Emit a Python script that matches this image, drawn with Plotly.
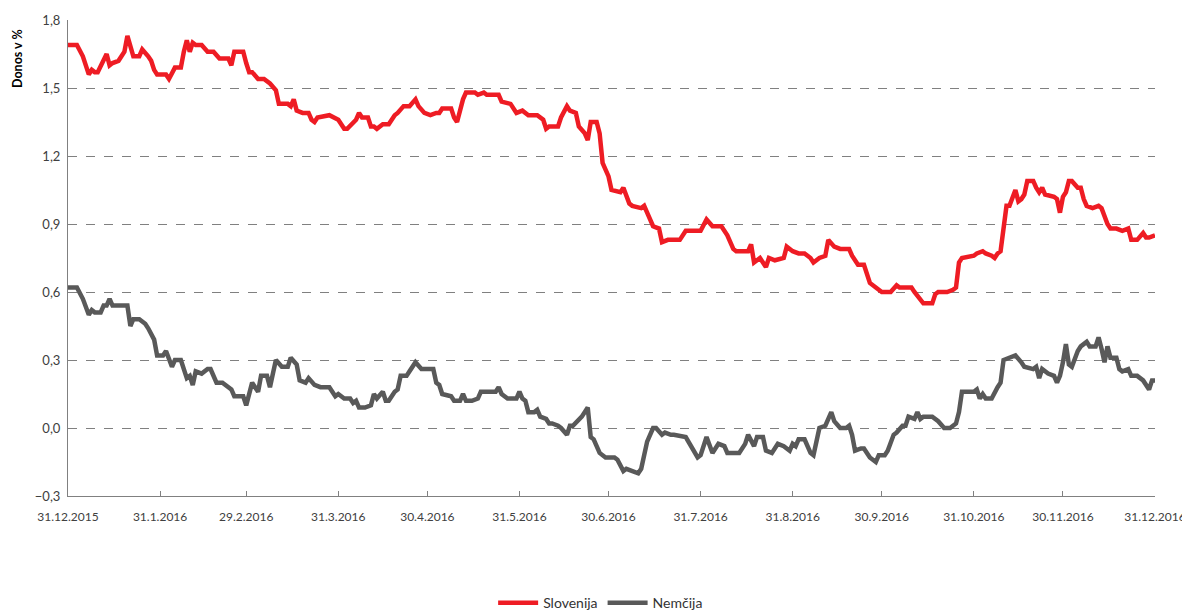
import plotly.graph_objects as go

slo_dates = ["2015-12-31","2016-01-03","2016-01-05","2016-01-06","2016-01-07","2016-01-08","2016-01-09","2016-01-10","2016-01-12","2016-01-13","2016-01-14","2016-01-15","2016-01-17","2016-01-18","2016-01-19","2016-01-20","2016-01-21","2016-01-22","2016-01-24","2016-01-25","2016-01-27","2016-01-28","2016-01-29","2016-01-30",
"2016-02-02","2016-02-03","2016-02-05","2016-02-07","2016-02-08","2016-02-09","2016-02-10","2016-02-11","2016-02-12","2016-02-14","2016-02-16","2016-02-17","2016-02-18","2016-02-20","2016-02-21","2016-02-23","2016-02-24","2016-02-25","2016-02-27","2016-02-28","2016-02-29",
"2016-03-01","2016-03-02","2016-03-04","2016-03-06","2016-03-08","2016-03-10","2016-03-11","2016-03-14","2016-03-15","2016-03-16","2016-03-17","2016-03-19","2016-03-21","2016-03-22","2016-03-23","2016-03-24","2016-03-28","2016-03-31",
"2016-04-02","2016-04-03","2016-04-05","2016-04-06","2016-04-07","2016-04-08","2016-04-10","2016-04-11","2016-04-12","2016-04-13","2016-04-15","2016-04-17","2016-04-19","2016-04-20","2016-04-22","2016-04-24","2016-04-26","2016-04-27","2016-04-29",
"2016-05-01","2016-05-03","2016-05-04","2016-05-05","2016-05-08","2016-05-09","2016-05-10","2016-05-12","2016-05-13","2016-05-16","2016-05-17","2016-05-19","2016-05-20","2016-05-24","2016-05-25","2016-05-28","2016-05-30",
"2016-06-01","2016-06-03","2016-06-06","2016-06-08","2016-06-09","2016-06-10","2016-06-13","2016-06-14","2016-06-16","2016-06-17","2016-06-19","2016-06-20","2016-06-22","2016-06-23","2016-06-24","2016-06-26","2016-06-27","2016-06-28","2016-06-30",
"2016-07-01","2016-07-04","2016-07-05","2016-07-07","2016-07-08","2016-07-11","2016-07-12","2016-07-13","2016-07-15","2016-07-17","2016-07-18","2016-07-20","2016-07-24","2016-07-26","2016-07-28","2016-07-31",
"2016-08-02","2016-08-04","2016-08-07","2016-08-09","2016-08-11","2016-08-12","2016-08-16","2016-08-17","2016-08-18","2016-08-20","2016-08-22","2016-08-23","2016-08-25","2016-08-28","2016-08-29","2016-08-31",
"2016-09-02","2016-09-04","2016-09-06","2016-09-07","2016-09-09","2016-09-11","2016-09-12","2016-09-14","2016-09-16","2016-09-19","2016-09-20","2016-09-22","2016-09-24","2016-09-26","2016-09-28","2016-09-30",
"2016-10-03","2016-10-05","2016-10-06","2016-10-10","2016-10-11","2016-10-13","2016-10-14","2016-10-17","2016-10-18","2016-10-19","2016-10-22","2016-10-24","2016-10-25","2016-10-26","2016-10-27","2016-10-31",
"2016-11-01","2016-11-03","2016-11-04","2016-11-06","2016-11-07","2016-11-08","2016-11-09","2016-11-11","2016-11-12","2016-11-14","2016-11-15","2016-11-16","2016-11-17","2016-11-18","2016-11-20","2016-11-21","2016-11-22","2016-11-23","2016-11-24","2016-11-27","2016-11-28","2016-11-29","2016-11-30",
"2016-12-01","2016-12-02","2016-12-03","2016-12-05","2016-12-06","2016-12-07","2016-12-08","2016-12-10","2016-12-12","2016-12-13","2016-12-15","2016-12-16","2016-12-18","2016-12-20","2016-12-22","2016-12-23","2016-12-25","2016-12-27","2016-12-28","2016-12-29","2016-12-31"]

slo_values = [1.69,1.69,1.64,1.60,1.56,1.58,1.57,1.57,1.62,1.65,1.60,1.61,1.62,1.64,1.66,1.73,1.69,1.64,1.64,1.67,1.64,1.62,1.58,1.56,
1.56,1.54,1.59,1.59,1.66,1.71,1.66,1.70,1.69,1.69,1.66,1.66,1.66,1.63,1.63,1.63,1.60,1.66,1.66,1.66,1.61,
1.57,1.57,1.54,1.54,1.52,1.49,1.43,1.43,1.42,1.45,1.40,1.39,1.39,1.36,1.35,1.37,1.38,1.36,
1.32,1.32,1.35,1.36,1.39,1.37,1.37,1.33,1.33,1.32,1.34,1.34,1.38,1.39,1.42,1.42,1.45,1.42,1.39,
1.38,1.39,1.39,1.41,1.41,1.37,1.35,1.45,1.48,1.48,1.47,1.48,1.47,1.47,1.44,1.43,1.39,
1.40,1.38,1.38,1.36,1.32,1.33,1.33,1.37,1.42,1.40,1.39,1.33,1.30,1.27,1.35,1.35,1.30,1.17,1.11,
1.05,1.04,1.06,0.99,0.98,0.97,0.98,0.95,0.89,0.88,0.82,0.83,0.83,0.87,0.87,0.87,
0.92,0.89,0.89,0.85,0.79,0.78,0.78,0.81,0.73,0.75,0.71,0.75,0.74,0.75,0.80,0.78,
0.77,0.77,0.75,0.73,0.75,0.76,0.83,0.80,0.79,0.79,0.76,0.72,0.72,0.64,0.62,0.60,
0.60,0.63,0.62,0.62,0.60,0.57,0.55,0.55,0.59,0.60,0.60,0.61,0.62,0.73,0.75,0.76,
0.77,0.78,0.77,0.76,0.75,0.77,0.78,0.98,0.98,1.05,1.00,1.01,1.03,1.09,1.09,1.06,1.04,1.06,1.03,1.02,1.01,0.95,1.02,
1.04,1.09,1.09,1.06,1.06,1.01,0.98,0.97,0.98,0.97,0.90,0.88,0.88,0.87,0.88,0.83,0.83,0.86,0.84,0.84,0.85]

ger_dates = ["2015-12-31","2016-01-03","2016-01-05","2016-01-06","2016-01-07","2016-01-08","2016-01-09","2016-01-11","2016-01-12","2016-01-13","2016-01-14","2016-01-15","2016-01-20","2016-01-21","2016-01-22","2016-01-24","2016-01-26","2016-01-27","2016-01-29","2016-01-30",
"2016-02-01","2016-02-02","2016-02-03","2016-02-04","2016-02-05","2016-02-07","2016-02-09","2016-02-10","2016-02-11","2016-02-12","2016-02-14","2016-02-15","2016-02-16","2016-02-17","2016-02-19","2016-02-21","2016-02-23","2016-02-24","2016-02-25","2016-02-27","2016-02-28","2016-02-29",
"2016-03-01","2016-03-02","2016-03-04","2016-03-05","2016-03-07","2016-03-08","2016-03-09","2016-03-10","2016-03-12","2016-03-14","2016-03-15","2016-03-17","2016-03-18","2016-03-20","2016-03-21","2016-03-23","2016-03-25","2016-03-28","2016-03-30","2016-03-31",
"2016-04-02","2016-04-04","2016-04-05","2016-04-06","2016-04-07","2016-04-09","2016-04-11","2016-04-12","2016-04-13","2016-04-15","2016-04-16","2016-04-17","2016-04-19","2016-04-20","2016-04-21","2016-04-23","2016-04-24","2016-04-26","2016-04-28","2016-04-29",
"2016-05-02","2016-05-03","2016-05-04","2016-05-05","2016-05-08","2016-05-09","2016-05-11","2016-05-12","2016-05-13","2016-05-15","2016-05-17","2016-05-18","2016-05-20","2016-05-23","2016-05-24","2016-05-25","2016-05-27","2016-05-30","2016-05-31",
"2016-06-01","2016-06-02","2016-06-03","2016-06-05","2016-06-06","2016-06-07","2016-06-09","2016-06-10","2016-06-11","2016-06-13","2016-06-14","2016-06-16","2016-06-17","2016-06-18","2016-06-20","2016-06-21","2016-06-23","2016-06-24","2016-06-25","2016-06-27","2016-06-29",
"2016-07-02","2016-07-03","2016-07-05","2016-07-06","2016-07-08","2016-07-10","2016-07-11","2016-07-12","2016-07-13","2016-07-15","2016-07-16","2016-07-18","2016-07-19","2016-07-21","2016-07-22","2016-07-26","2016-07-28","2016-07-30","2016-07-31",
"2016-08-01","2016-08-02","2016-08-04","2016-08-06","2016-08-08","2016-08-09","2016-08-13","2016-08-15","2016-08-16","2016-08-18","2016-08-19","2016-08-21","2016-08-22","2016-08-24","2016-08-26","2016-08-28","2016-08-30","2016-08-31",
"2016-09-01","2016-09-02","2016-09-04","2016-09-05","2016-09-06","2016-09-07","2016-09-09","2016-09-11","2016-09-13","2016-09-14","2016-09-16","2016-09-18","2016-09-19","2016-09-20","2016-09-21","2016-09-23","2016-09-24","2016-09-26","2016-09-28","2016-09-29",
"2016-10-01","2016-10-02","2016-10-04","2016-10-05","2016-10-07","2016-10-08","2016-10-09","2016-10-11","2016-10-12","2016-10-13","2016-10-14","2016-10-16","2016-10-17","2016-10-19","2016-10-21","2016-10-23","2016-10-25","2016-10-26","2016-10-27","2016-10-31",
"2016-11-01","2016-11-02","2016-11-03","2016-11-04","2016-11-06","2016-11-08","2016-11-09","2016-11-10","2016-11-12","2016-11-14","2016-11-16","2016-11-17","2016-11-20","2016-11-21","2016-11-22","2016-11-23","2016-11-25","2016-11-27","2016-11-28","2016-11-29","2016-11-30",
"2016-12-01","2016-12-02","2016-12-03","2016-12-05","2016-12-06","2016-12-08","2016-12-09","2016-12-11","2016-12-12","2016-12-13","2016-12-14","2016-12-15","2016-12-16","2016-12-18","2016-12-19","2016-12-20","2016-12-22","2016-12-23","2016-12-25","2016-12-27","2016-12-28","2016-12-29","2016-12-30","2016-12-31"]

ger_values = [0.62,0.62,0.57,0.53,0.50,0.52,0.51,0.51,0.54,0.54,0.57,0.54,0.54,0.45,0.48,0.48,0.46,0.44,0.39,0.32,
0.32,0.34,0.30,0.27,0.30,0.30,0.22,0.23,0.19,0.25,0.24,0.25,0.26,0.26,0.20,0.20,0.18,0.17,0.14,0.14,0.14,0.10,
0.15,0.20,0.16,0.23,0.23,0.18,0.24,0.30,0.27,0.27,0.31,0.28,0.21,0.20,0.22,0.19,0.18,0.18,0.14,0.15,
0.13,0.13,0.11,0.12,0.09,0.09,0.10,0.15,0.13,0.16,0.12,0.12,0.16,0.17,0.23,0.23,0.25,0.29,0.26,0.26,
0.26,0.20,0.19,0.15,0.14,0.12,0.12,0.15,0.12,0.12,0.13,0.16,0.16,0.16,0.18,0.15,0.13,0.13,0.16,
0.13,0.12,0.07,0.07,0.08,0.05,0.04,0.02,0.02,0.01,0.00,-0.03,0.01,0.01,0.04,0.05,0.09,-0.04,-0.05,-0.11,-0.13,
-0.13,-0.14,-0.19,-0.18,-0.19,-0.20,-0.18,-0.11,-0.06,0.00,0.00,-0.03,-0.02,-0.03,-0.03,-0.04,-0.09,-0.13,-0.12,
-0.08,-0.04,-0.11,-0.07,-0.08,-0.11,-0.11,-0.07,-0.03,-0.08,-0.04,-0.04,-0.10,-0.11,-0.07,-0.08,-0.10,-0.07,
-0.08,-0.05,-0.05,-0.08,-0.11,-0.12,0.00,0.01,0.07,0.03,0.00,0.00,0.01,-0.03,-0.10,-0.09,-0.09,-0.13,-0.15,-0.12,
-0.12,-0.10,-0.03,-0.02,0.01,0.01,0.05,0.04,0.07,0.04,0.05,0.05,0.05,0.03,0.00,0.00,0.02,0.07,0.16,0.16,
0.17,0.13,0.15,0.13,0.13,0.18,0.20,0.30,0.31,0.32,0.29,0.27,0.26,0.27,0.22,0.26,0.24,0.23,0.20,0.23,0.29,
0.37,0.28,0.27,0.34,0.36,0.38,0.36,0.36,0.40,0.35,0.29,0.36,0.31,0.31,0.26,0.25,0.26,0.23,0.23,0.21,0.19,0.17,0.21,0.21]

tick_dates = ["2015-12-31","2016-01-31","2016-02-29","2016-03-31","2016-04-30","2016-05-31","2016-06-30",
              "2016-07-31","2016-08-31","2016-09-30","2016-10-31","2016-11-30","2016-12-31"]
tick_labels = ["31.12.2015","31.1.2016","29.2.2016","31.3.2016","30.4.2016","31.5.2016","30.6.2016",
               "31.7.2016","31.8.2016","30.9.2016","31.10.2016","30.11.2016","31.12.2016"]
y_ticks = [-0.3, 0.0, 0.3, 0.6, 0.9, 1.2, 1.5, 1.8]

FONT = "Lato, 'Open Sans', sans-serif"

fig = go.Figure()
fig.add_trace(go.Scatter(x=slo_dates, y=slo_values, mode="lines", name="Slovenija",
                         line=dict(color="#EE1C24", width=4.5)))
fig.add_trace(go.Scatter(x=ger_dates, y=ger_values, mode="lines", name="Nemčija",
                         line=dict(color="#595959", width=4.5)))

# The page body adds an 8 px offset; the figure size compensates for it.
fig.update_layout(
    width=1182, height=604,
    margin=dict(l=60, r=35, t=12, b=116, autoexpand=False),
    paper_bgcolor="white", plot_bgcolor="white",
    separators=", ",
    font=dict(family=FONT, size=13, color="#404040"),
    showlegend=True,
    legend=dict(orientation="h", x=0.49, xanchor="center", y=-0.225, yanchor="middle",
                font=dict(size=14, color="#333333"), itemwidth=40, traceorder="normal"),
    annotations=[dict(text="<b>Donos v %</b>", textangle=-90, xref="paper", yref="paper",
                      x=-0.047, y=0.92, xanchor="center", yanchor="middle", showarrow=False,
                      font=dict(size=12.5, color="#000000", family=FONT))],
)
fig.update_xaxes(
    range=["2015-12-31", "2016-12-31"],
    tickmode="array", tickvals=tick_dates, ticktext=tick_labels,
    ticks="inside", ticklen=5, tickcolor="#808080", tickwidth=1,
    ticklabelstandoff=10, ticklabeloverflow="allow",
    showgrid=False, showline=True, linecolor="#808080", linewidth=1,
    tickfont=dict(size=12, color="#404040"), zeroline=False,
)
fig.update_yaxes(
    range=[-0.3, 1.8], tickmode="array", tickvals=y_ticks, tickformat=".1f",
    showgrid=True, gridcolor="#808080", gridwidth=1.3, griddash="dash",
    showline=True, linecolor="#808080", linewidth=1, ticks="",
    ticklabelstandoff=4,
    zeroline=False, tickfont=dict(size=13, color="#404040"),
)

fig.write_html("out.html")
